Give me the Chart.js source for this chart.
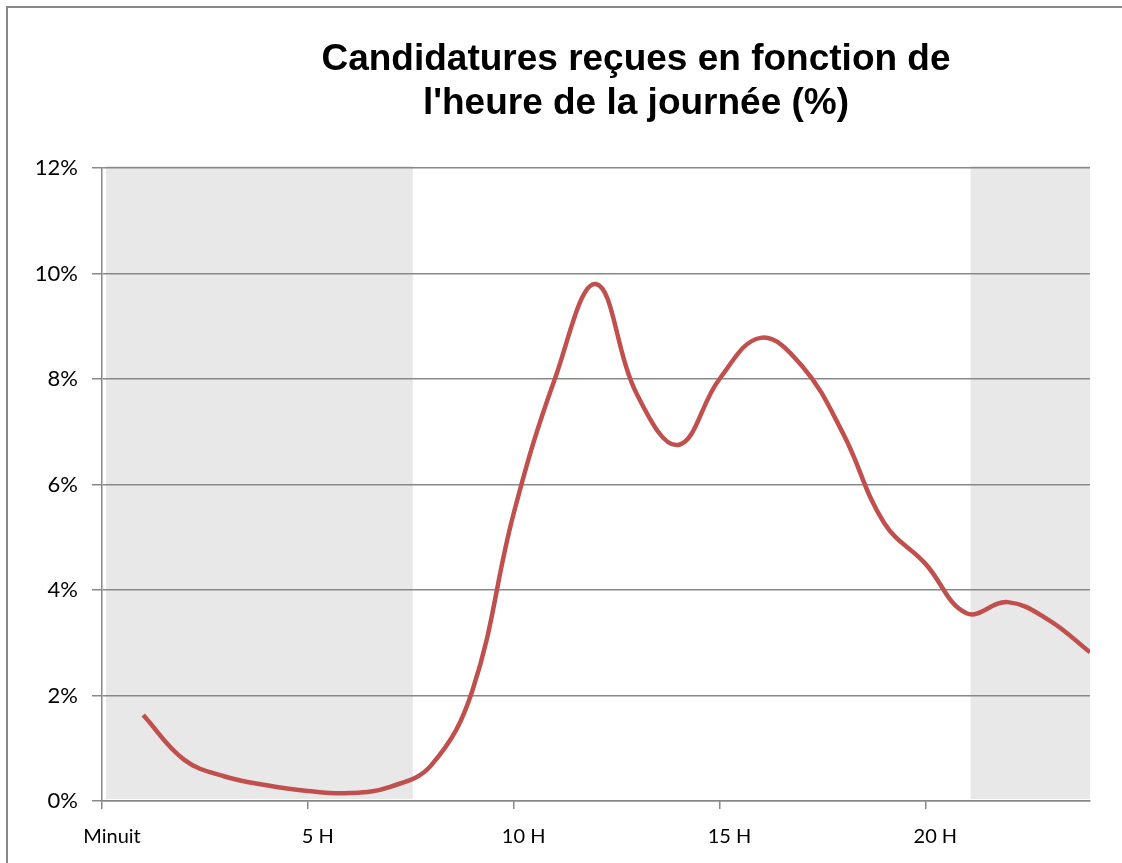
<!DOCTYPE html>
<html>
<head>
<meta charset="utf-8">
<script src="https://cdn.jsdelivr.net/npm/chart.js@4"></script>
<style>
	html, body { margin: 0; padding: 0; background: #fff; }
	body { width: 1122px; height: 863px; position: relative; overflow: hidden; }
	#frame { position: absolute; left: 6px; top: 6px; width: 1200px; height: 900px; border-left: 2px solid #888; border-top: 2px solid #888; }
	#title { position: absolute; left: 286px; width: 700px; top: 36px; text-align: center; font: bold 37px 'Liberation Sans', Arial, sans-serif; line-height: 44px; color: #000; white-space: nowrap; }
	#wrap { position: absolute; left: 0; top: 0; width: 1122px; height: 863px; }
</style>
</head>
<body>
<div id="frame"></div>
<div id="wrap"><canvas id="chart-hours" width="1122" height="863"></canvas></div>
<div id="title">Candidatures reçues en fonction de<br>l'heure de la journée (%)</div>
<script>
const hours = [1, 2, 3, 4, 5, 6, 7, 8, 9, 10, 11, 12, 13, 14, 15, 16, 17, 18, 19, 20, 21, 22, 23, 24];
const share = [1.63, 0.78, 0.46, 0.30, 0.19, 0.15, 0.27, 0.68, 2.1, 5.45, 8.0, 9.8, 7.7, 6.75, 8.0, 8.78, 8.25, 6.97, 5.27, 4.5, 3.56, 3.77, 3.43, 2.82];
const xTicks = [0, 5, 10, 15, 20];
const xTickLabels = ['Minuit', '5 H', '10 H', '15 H', '20 H'];
const yTicks = [0, 2, 4, 6, 8, 10, 12];
// night hours shaded in grey (start, end in hours)
const nightBands = [[0.1, 7.55], [21.1, 24]];

const bandsPlugin = {
	id: 'nightBands',
	beforeDraw(chart){
		const { ctx, chartArea, scales } = chart;
		ctx.save();
		ctx.fillStyle = '#e8e8e8';
		nightBands.forEach(b => {
			const x0 = scales.x.getPixelForValue(b[0]);
			const x1 = scales.x.getPixelForValue(b[1]);
			ctx.fillRect(x0, chartArea.top - 2, x1 - x0, chartArea.bottom - chartArea.top);
		});
		ctx.restore();
	}
};

const ctx = document.getElementById('chart-hours').getContext('2d');
new Chart(ctx, {
	type: 'line',
	data: {
		datasets: [{
			data: hours.map((h, i) => ({ x: h, y: share[i] })),
			borderColor: '#c0504d',
			borderWidth: 4.5,
			tension: 0.4,
			pointRadius: 0,
			fill: false
		}]
	},
	options: {
		responsive: false,
		animation: false,
		layout: { padding: { top: 168, right: 32, left: 0, bottom: 0 } },
		plugins: { legend: { display: false }, title: { display: false }, tooltip: { enabled: false } },
		scales: {
			x: {
				type: 'linear', min: 0, max: 24,
				afterBuildTicks: s => { s.ticks = xTicks.map(v => ({ value: v })); },
				afterFit: s => { s.height = 62; },
				grid: { drawOnChartArea: false, drawTicks: true, tickLength: 8, color: '#888', lineWidth: 1.5 },
				border: { color: '#888', width: 1.5 },
				ticks: {
					color: '#000', padding: 16, labelOffset: 10, maxRotation: 0,
					font: { family: 'Lato', size: 20 },
					callback: (v) => xTickLabels[xTicks.indexOf(v)]
				}
			},
			y: {
				min: 0, max: 12,
				afterBuildTicks: s => { s.ticks = yTicks.map(v => ({ value: v })); },
				afterFit: s => { s.width = 102; },
				grid: { color: '#888', lineWidth: 1.5, tickLength: 10 },
				border: { color: '#888', width: 1.5 },
				ticks: {
					color: '#000', padding: 14,
					font: { family: 'Lato', size: 22 },
					callback: v => v + '%'
				}
			}
		}
	},
	plugins: [bandsPlugin]
});
</script>
</body>
</html>
